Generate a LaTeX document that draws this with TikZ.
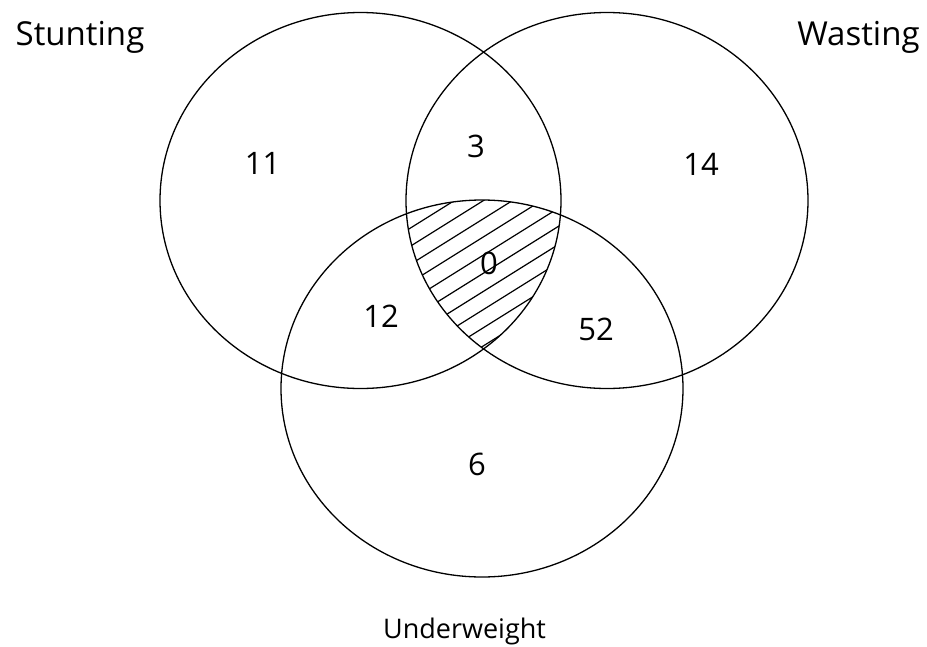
\documentclass[tikz,border=0pt]{standalone}
\usepackage{fontspec}
\setmainfont{Open Sans}
\begin{document}
\begin{tikzpicture}[x=1pt,y=-1pt,
  setline/.style={line width=1.3pt},
  hatchline/.style={line width=1.2pt},
  lbl/.style={inner sep=0pt,anchor=base,font=\fontsize{33}{33}\selectfont},
  num/.style={inner sep=0pt,anchor=base,font=\fontsize{31}{31}\selectfont},
  sub/.style={inner sep=0pt,anchor=base,font=\fontsize{27}{27}\selectfont}]
\useasboundingbox (0,0) rectangle (927,646);
\coordinate (cS) at (360.5,200.5);
\coordinate (cW) at (607,200.5);
\coordinate (cU) at (482,388.5);
% hatching of triple intersection
\begin{scope}
  \clip (cS) ellipse [x radius=200.5, y radius=188];
  \clip (cW) ellipse [x radius=201, y radius=188];
  \clip (cU) ellipse [x radius=201, y radius=188.5];
  \foreach \k in {-15,...,15}{
    \draw[hatchline] ({450+\k*8.16-254.4},{203.3+\k*13.06+159}) -- ({450+\k*8.16+254.4},{203.3+\k*13.06-159});
  }
\end{scope}
\draw[setline] (cS) ellipse [x radius=200.5, y radius=188];
\draw[setline] (cW) ellipse [x radius=201, y radius=188];
\draw[setline] (cU) ellipse [x radius=201, y radius=188.5];
\node[lbl] (tS) at (80,45) {Stunting};
\node[lbl] (tW) at (858.5,45) {Wasting};
\node[sub] (tU) at (464.5,638) {Underweight};
\node[num] (n11) at (262.5,174) {11};
\node[num] (n3) at (476,157) {3};
\node[num] (n14) at (701,175) {14};
\node[num] (n0) at (489,274) {0};
\node[num] (n12) at (381,327) {12};
\node[num] (n52) at (596,340) {52};
\node[num] (n6) at (477,475) {6};
\end{tikzpicture}
\end{document}
